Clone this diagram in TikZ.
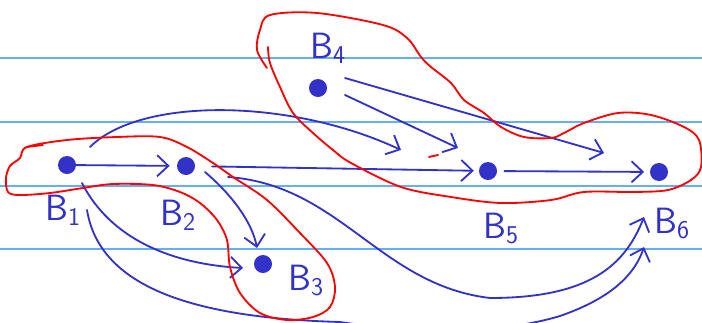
\documentclass[tikz,border=0pt]{standalone}
\usetikzlibrary{arrows.meta}
\begin{document}
\begin{tikzpicture}[x=0.025cm, y=-0.025cm, line cap=round, line join=round,
  bdot/.style={circle, fill=penblue, inner sep=0pt, minimum size=0.45cm},
  lbl/.style={text=penblue, inner sep=0pt, anchor=base west, font=\sffamily\fontsize{26}{28}\selectfont},
  arr/.style={penblue, line width=1.3pt, -{Straight Barb[length=8pt,width=15pt]}},
  ruled/.style={draw=ruleblue, line width=1pt},
  groupline/.style={red, line width=1.3pt}]
  \definecolor{penblue}{RGB}{50,50,200}
  \definecolor{ruleblue}{RGB}{100,175,250}
  \useasboundingbox (0,0) rectangle (702,322);
  \clip (0,0) rectangle (702,322);
  \fill[white] (0,0) rectangle (702,322);
  % notebook lines
  \foreach \y in {58,122,186,249}
    \draw[ruled] (0,\y) -- (702,\y);
  % blocks
  \node[bdot] (b1) at (67,165) {};
  \node[bdot] (b2) at (186,166) {};
  \node[bdot] (b3) at (263,264) {};
  \node[bdot] (b4) at (318,88) {};
  \node[bdot] (b5) at (488,171) {};
  \node[bdot] (b6) at (659,172) {};
  \node[lbl] (l1) at (45,220) {B\textsubscript{1}};
  \node[lbl] (l2) at (160,225) {B\textsubscript{2}};
  \node[lbl] (l3) at (288,290) {B\textsubscript{3}};
  \node[lbl] (l4) at (310,58) {B\textsubscript{4}};
  \node[lbl] (l5) at (483,238) {B\textsubscript{5}};
  \node[lbl] (l6) at (654,233) {B\textsubscript{6}};
  % arrow tips that stop short
  \coordinate (t15) at (401,150);
  \coordinate (t13) at (243,268);
  \coordinate (t23) at (257,248);
  \coordinate (t26) at (644,217);
  \coordinate (t16) at (644,247);
  \coordinate (t45) at (458,148);
  \coordinate (t46) at (604,153);
  % straight arrows
  \draw[arr, shorten >=5pt] (b1) -- (b2);
  \draw[arr, shorten <=12pt, shorten >=3.5pt] (b2) -- (b5);
  \draw[arr, shorten <=5pt, shorten >=4pt] (b5) -- (b6);
  \draw[arr] ([shift={(27,7)}]b4.center) -- (t45);
  \draw[arr] ([shift={(27,-10)}]b4.center) -- (t46);
  % curved arrows
  \draw[arr] ([shift={(23,-18)}]b1.center) .. controls (140,97) and (290,98) .. (t15);
  \draw[arr] ([shift={(15,18)}]b1.center) .. controls (110,238) and (170,264) .. (t13);
  \draw[arr] ([shift={(19,6)}]b2.center) .. controls (232,195) and (252,222) .. (t23);
  \draw[arr] ([shift={(42,11)}]b2.center) .. controls (340,185) and (380,285) .. (490,298)
    .. controls (590,298) and (625,265) .. (t26);
  \draw[arr] ([shift={(20,45)}]b1.center) .. controls (100,290) and (200,318) .. (340,322)
    .. controls (420,334) and (500,334) .. (560,316) .. controls (600,302) and (632,282) .. (t16);
  % groups
  \draw[groupline] plot[smooth cycle, tension=0.55] coordinates {(27,147) (67,140) (117,137)
    (160,137) (187,147) (213,163) (233,177) (267,200) (300,233) (327,263) (335,287) (330,307)
    (313,317) (287,320) (260,313) (240,293) (230,267) (227,240) (217,220) (200,203) (180,192)
    (153,185) (113,184) (83,188) (50,193) (20,195) (8,192) (6,178) (10,166) (20,158)};
  \draw[groupline] (27,147) -- (43,145);
  \draw[groupline] plot[smooth, tension=0.55] coordinates {(267,68) (257,50) (260,30) (270,15)
    (317,13) (383,25) (407,38) (421,57) (431,67) (451,83) (464,100) (484,113) (501,127)
    (524,137) (551,138) (564,133) (584,123) (618,113) (651,115) (684,127) (699,140) (701,167)
    (691,180) (668,190) (634,192) (584,192) (551,200) (501,203) (451,197) (401,187) (351,163)
    (333,150) (313,133) (293,113) (280,87) (270,63) (268,47)};
  \draw[groupline] (429,157) -- (438,155);
\end{tikzpicture}
\end{document}
